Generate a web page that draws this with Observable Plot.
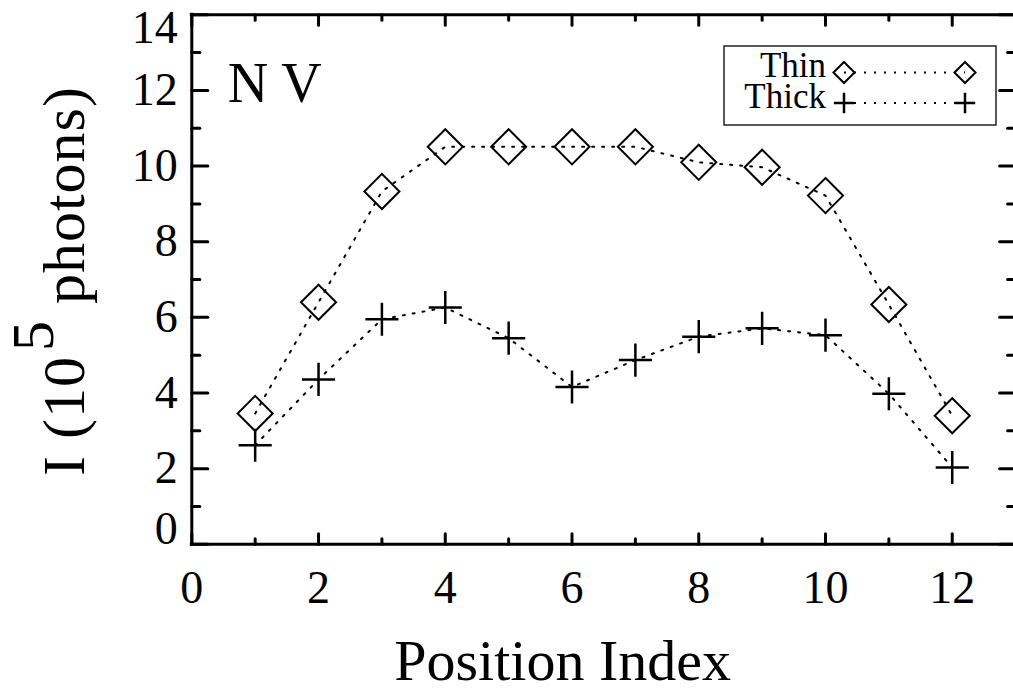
<!DOCTYPE html>
<html><head><meta charset="utf-8">
<script src="https://cdn.jsdelivr.net/npm/d3@7"></script>
<script src="https://cdn.jsdelivr.net/npm/@observablehq/plot@0.6"></script>
<style>
body{margin:0;background:#fff;}
#chart{width:1013px;height:694px;overflow:hidden;}
#chart svg, #chart svg text{font-family:"Liberation Serif","Times New Roman",serif;}
</style></head><body><div id="chart"></div>
<script>
// ---- data ----
const positions = [1,2,3,4,5,6,7,8,9,10,11,12];
const thinValues  = [3.46,6.40,9.33,10.51,10.51,10.51,10.51,10.10,9.97,9.22,6.34,3.40];
const thickValues = [2.62,4.36,5.95,6.26,5.45,4.16,4.87,5.49,5.71,5.53,3.98,2.03];
const seriesNames = ["Thin","Thick"];
const xMajorTicks = [0,2,4,6,8,10,12];
const xMinorTicks = [1,3,5,7,9,11];
const yMajorTicks = [0,2,4,6,8,10,12,14];
const yMinorTicks = [1,3,5,7,9,11,13];
const xDomain = [0,13];
const yDomain = [0,14];
const xLabel = "Position Index";
const yLabelParts = ["I (10","5"," photons)"];
const panelLabel = "N V";

const FONT = "Liberation Serif";

const thinRows = positions.map((p,i)=>({x:p, y:thinValues[i], series:seriesNames[0]}));
const thickRows = positions.map((p,i)=>({x:p, y:thickValues[i], series:seriesNames[1]}));

const tickShape = {draw(ctx, l){ ctx.moveTo(0,0); ctx.lineTo(0,-l); }};
const tickStyle = {stroke:"black", strokeWidth:3, shape:tickShape, anchor:"start"};
const txt = {fontFamily:FONT, fill:"black"};

const yLabelText = yLabelParts.join("");

const chart = Plot.plot({
  width:1013, height:694,
  marginLeft:191.3, marginRight:0, marginTop:14.3, marginBottom:150.2,
  x:{domain:xDomain, range:[191.3,1015.1], axis:null},
  y:{domain:yDomain, range:[543.8,14.3], axis:null},
  style:{background:"white", color:"black"},
  marks:[
    // dotted connecting lines
    Plot.line(thinRows, {x:"x", y:"y", stroke:"black", strokeWidth:2, strokeDasharray:"2,8"}),
    Plot.line(thickRows, {x:"x", y:"y", stroke:"black", strokeWidth:2, strokeDasharray:"2,8"}),
    // markers
    Plot.dot(thinRows, {x:"x", y:"y", symbol:"diamond2", r:15.8, stroke:"black", strokeWidth:2, fill:"none"}),
    Plot.dot(thickRows, {x:"x", y:"y", symbol:"plus", r:10.7, stroke:"black", strokeWidth:2.5, fill:"none"}),
    // frame
    Plot.ruleX([xDomain[0], xDomain[1]], {x:d=>d, y1:yDomain[0], y2:yDomain[1], stroke:"black", strokeWidth:3, strokeLinecap:"square"}),
    Plot.ruleY([yDomain[0], yDomain[1]], {y:d=>d, x1:xDomain[0], x2:xDomain[1], stroke:"black", strokeWidth:3, strokeLinecap:"square"}),
    // bottom ticks
    Plot.vector(xMajorTicks, {x:d=>d, y:yDomain[0], rotate:0, length:10.5, ...tickStyle}),
    Plot.vector(xMinorTicks, {x:d=>d, y:yDomain[0], rotate:0, length:5.5, ...tickStyle}),
    // top ticks
    Plot.vector(xMajorTicks, {x:d=>d, y:yDomain[1], rotate:180, length:10.5, ...tickStyle}),
    Plot.vector(xMinorTicks, {x:d=>d, y:yDomain[1], rotate:180, length:5.5, ...tickStyle}),
    // left ticks
    Plot.vector(yMajorTicks, {x:xDomain[0], y:d=>d, rotate:90, length:16, ...tickStyle}),
    Plot.vector(yMinorTicks, {x:xDomain[0], y:d=>d, rotate:90, length:8, ...tickStyle}),
    // right ticks
    Plot.vector(yMajorTicks, {x:xDomain[1], y:d=>d, rotate:-90, length:16, ...tickStyle}),
    Plot.vector(yMinorTicks, {x:xDomain[1], y:d=>d, rotate:-90, length:8, ...tickStyle}),
    // y tick labels
    Plot.text(yMajorTicks.filter(d=>d>yDomain[0] && d<yDomain[1]), {x:xDomain[0], y:d=>d, text:d=>String(d), textAnchor:"end", dx:-14, fontSize:46, lineAnchor:"middle", ...txt}),
    Plot.text(yMajorTicks.filter(d=>d===yDomain[1]), {x:xDomain[0], y:d=>d, text:d=>String(d), textAnchor:"end", dx:-14, dy:-4, fontSize:46, lineAnchor:"top", ...txt}),
    Plot.text(yMajorTicks.filter(d=>d===yDomain[0]), {x:xDomain[0], y:d=>d, text:d=>String(d), textAnchor:"end", dx:-14, fontSize:46, lineAnchor:"bottom", ...txt}),
    // x tick labels
    Plot.text(xMajorTicks, {x:d=>d, y:yDomain[0], text:d=>String(d), textAnchor:"middle", dy:59, fontSize:46, lineAnchor:"bottom", ...txt}),
    // axis labels
    Plot.text([xLabel], {frameAnchor:"bottom", text:d=>d, dx:-40, dy:136, fontSize:58, lineAnchor:"bottom", ...txt}),
    Plot.text([yLabelText], {frameAnchor:"left", text:d=>d, rotate:-90, dx:-108, dy:1.5, fontSize:60, lineAnchor:"bottom", textAnchor:"middle", ...txt}),
    // panel label
    Plot.text([panelLabel], {frameAnchor:"top-left", text:d=>d, dx:36, dy:87.5, fontSize:56, lineAnchor:"bottom", textAnchor:"start", ...txt})
  ]
});

const svg = d3.select(chart);
svg.attr("font-family", FONT);
// superscript in y label
svg.selectAll("text").filter(function(){ return this.textContent === yLabelText; }).each(function(){
  const t = d3.select(this);
  t.text(null).attr("letter-spacing", 1);
  t.append("tspan").text(yLabelParts[0]);
  t.append("tspan").attr("dy", -31).attr("dx", 5).text(yLabelParts[1]);
  t.append("tspan").attr("dy", 31).text(yLabelParts[2]);
});

// legend
const lg = svg.append("g").attr("font-family", FONT);
lg.append("rect").attr("x",724).attr("y",46).attr("width",272).attr("height",79)
  .attr("fill","white").attr("stroke","black").attr("stroke-width",1.3);
const legendRowsY = [72.5, 103];
const legendSymbols = [d3.symbolDiamond2, d3.symbolPlus];
const legendSymbolSizes = [Math.PI*9.5*9.5, Math.PI*6.6*6.6];
const legendX = [844, 965];
seriesNames.forEach((name,i)=>{
  const yy = legendRowsY[i];
  lg.append("line").attr("x1",legendX[0]).attr("x2",legendX[1]).attr("y1",yy).attr("y2",yy)
    .attr("stroke","black").attr("stroke-width",2).attr("stroke-dasharray","2,8");
  legendX.forEach(xx=>{
    lg.append("path").attr("d", d3.symbol(legendSymbols[i], legendSymbolSizes[i])())
      .attr("transform",`translate(${xx},${yy})`).attr("fill","none").attr("stroke","black").attr("stroke-width", i===0?2:2.5);
  });
  lg.append("text").attr("x",826).attr("y",yy+4.5).attr("text-anchor","end").attr("font-size",35).attr("fill","black").text(name);
});

document.getElementById("chart").appendChild(chart);
</script></body></html>
